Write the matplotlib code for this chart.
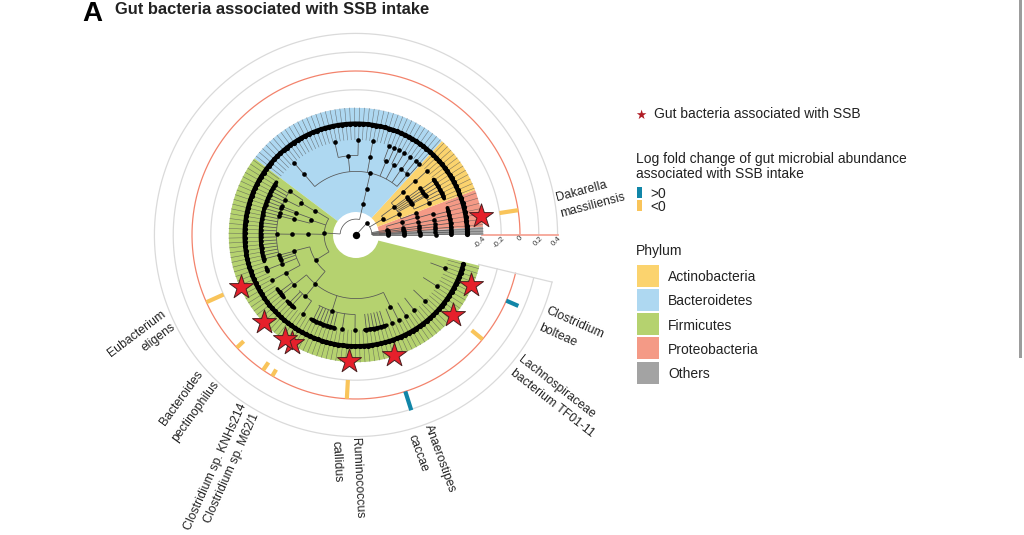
import matplotlib
matplotlib.use("Agg")
import matplotlib.pyplot as plt
import numpy as np
from matplotlib.patches import Rectangle

plt.rcParams["font.family"] = ["Liberation Sans", "DejaVu Sans"]

W, H = 1024, 535
CX, CY = 356, 235          # centre of the tree, in pixels
RMAX = 235
LEVEL = 15.9               # radial step of one taxonomic level
LFC_ZERO = 164
LFC_SCALE = 94             # pixels per unit of log fold change

PHYLA = ["Others", "Proteobacteria", "Actinobacteria", "Bacteroidetes", "Firmicutes"]
PHYLUM_EDGES = [0, 3.7, 20.7, 47.6, 143, 346]
PHYLUM_TIPS = [3, 7, 12, 43, 92]
PHYLUM_COLORS = ["#a3a3a3", "#f49a86", "#fbd36e", "#aed8f1", "#b5d26f"]
LEGEND_ORDER = ["Actinobacteria", "Bacteroidetes", "Firmicutes", "Proteobacteria", "Others"]

# nodes of the tree: angle in degrees at each level
L1_NODES = [47.6]
L2_NODES = [176.3, 77, 30.6, 9, 6.5, 4.5, 3, 1.5, 0]
L3_NODES = [178.8, 161.7, 149.2, 212, 77, 36.5, 26, 16, 9, 6.5, 4.5, 3, 1.5, 0]
L4_NODES = [179, 159.7, 165.6, 149.8, 194.4, 229.7, 77, 42.2, 36.3, 34.5, 32.5, 30.5, 28.8,
            19.8, 16, 11.5, 8, 6, 4, 2, 0]
L5_NODES = [95.6, 79.7, 67.8, 61.7, 55.5, 49.8, 130.4, 42.6, 36, 34, 32, 30, 29, 24,
            15.6, 11, 8, 6, 4, 2, 0, 179.3, 158.9, 166, 160.5, 164, 146.7, 153.5,
            194.7, 196.5, 198.5, 201.5, 208.5, 218.8, 230.5, 252.5, 295.6]
L6_SINGLES = [42.1, 48.3, 51.2, 55.2, 59.6, 63.3, 66.2, 69.5, 79.8, 88.6, 102.9, 130.6,
              208.4, 261.7, 269.4, 292.1, 296.5, 301.6, 307.7, 316.3, 327.7, 339.5, 236]
L6_RUNS = [(0, 16.5), (22.5, 35.5), (146.5, 196), (200, 202.5), (214.5, 221), (224, 229.8),
           (242, 257), (275.4, 288.8)]

# arcs joining the children of a node
ARC_LEVELS = [1, 1, 2, 2, 2, 3, 3, 3, 3, 3, 4, 4, 4, 4, 4,
              5, 5, 5, 5, 5, 5, 5, 5, 5, 5]
ARC_START = [0, 77, 149.2, 26, 0, 28.8, 19.8, 0, 159.7, 194.4, 49.8, 24, 146.7, 194.7, 218.8,
             88.6, 66.2, 59.6, 51.2, 48.3, 22.6, 146.9, 208.4, 224.3, 242]
ARC_END = [47.6, 176.3, 212, 36.5, 16, 42.2, 26, 16, 165.6, 229.7, 130.4, 36, 153.5, 208.5, 295.6,
           102.9, 69.5, 63.3, 55.2, 51.2, 35.5, 201.8, 221, 236, 269.4]

# species with a star, and their log fold change bar
SPECIES_ANGLE = [8.7, 336.4, 320.5, 287.5, 266.8, 239.3, 235.5, 223.4, 204.2]
SPECIES_LFC = [-0.20, 0.14, -0.15, 0.21, -0.20, -0.08, -0.10, -0.10, -0.20]
RING_TICKS = [-0.4, -0.2, 0, 0.2, 0.4]
RING_TICK_LABELS = ["-0.4", "-0.2", "0", "0.2", "0.4"]
RING_TICK_PX = [(480, 242), (499, 242), (520, 238.5), (538, 241), (556, 241)]

LABELS = ["Dakarella", "massiliensis", "Clostridium", "bolteae", "Lachnospiraceae",
          "bacterium TF01-11", "Anaerostipes", "caccae", "Ruminococcus", "callidus",
          "Clostridium sp. M62/1", "Clostridium sp. KNHs214", "Bacteroides",
          "pectinophilus", "Eubacterium", "eligens"]
LABEL_X = [582, 593, 575, 558, 557, 552, 440, 418, 357, 337, 232, 215, 182, 195, 137, 159]
LABEL_Y = [191, 205, 323, 335, 387, 403, 459, 453, 478, 462, 468, 467, 398, 411, 334, 337]
LABEL_ROT = [15, 15, -24, -24, -38, -38, -70, -70, -87, -87, 66, 66, 54, 54, 37, 37]

TEAL = "#1186a8"
YELLOW = "#f9c45a"
RING = "#dadada"
SALMON = "#f3836c"
TREE = "#555555"


def fx(x):
    return x / W


def fy(y):
    return 1 - y / H


def arc(ax, a, b, r, **kw):
    t = np.radians(np.linspace(a, b, max(int(abs(b - a)) * 2, 2)))
    ax.plot(t, np.full_like(t, r), **kw)


def tip_angles():
    out = []
    for i, n in enumerate(PHYLUM_TIPS):
        a, b = PHYLUM_EDGES[i], PHYLUM_EDGES[i + 1]
        step = (b - a) / n
        out.extend(a + step * (k + 0.4) for k in range(n))
    return np.array(out)


def main():
    fig = plt.figure(figsize=(W / 100, H / 100), dpi=100)
    ax = fig.add_axes([(CX - RMAX) / W, (H - CY - RMAX) / H, 2 * RMAX / W, 2 * RMAX / H],
                      projection="polar")
    ax.set_ylim(0, RMAX)
    ax.axis("off")

    # rings for the log fold change
    ends = (0, 346.5)
    for v in RING_TICKS:
        r = LFC_ZERO + v * LFC_SCALE
        arc(ax, *ends, r, color=SALMON if v == 0 else RING, lw=0.9, zorder=1)
    r0 = LFC_ZERO + RING_TICKS[0] * LFC_SCALE
    r1 = LFC_ZERO + RING_TICKS[-1] * LFC_SCALE
    ax.plot([0, 0], [r0, r1], color="#f6a596", lw=1.3, zorder=1)
    ax.plot([np.radians(346.5)] * 2, [r0, r1], color=RING, lw=0.9, zorder=1)

    # phylum sectors
    for i, c in enumerate(PHYLUM_COLORS):
        a, b = PHYLUM_EDGES[i], PHYLUM_EDGES[i + 1]
        ax.bar(np.radians((a + b) / 2), 8 * LEVEL - 23, width=np.radians(b - a), bottom=23,
               color=c, lw=0, zorder=2)

    # tree
    tips = tip_angles()
    line = dict(color=TREE, lw=0.55, zorder=3, solid_capstyle="butt")
    for t in tips:
        ax.plot([np.radians(t)] * 2, [6 * LEVEL, 8 * LEVEL], color=TREE, lw=0.4, alpha=0.75, zorder=3)
    for lev, a, b in zip(ARC_LEVELS, ARC_START, ARC_END):
        arc(ax, a, b, lev * LEVEL, **line)

    l6 = list(L6_SINGLES)
    for a, b in L6_RUNS:
        l6.extend(tips[(tips >= a) & (tips <= b)])
    by_level = [(1, L1_NODES), (2, L2_NODES), (3, L3_NODES), (4, L4_NODES), (5, L5_NODES), (6, l6)]
    for lev, nodes in by_level:
        th = np.radians(nodes)
        for t in th:
            ax.plot([t, t], [(lev - 1) * LEVEL, lev * LEVEL], **line)
        ax.scatter(th, np.full(len(th), lev * LEVEL), s=11, color="black", lw=0, zorder=4)
    ax.scatter(np.radians(tips), np.full(len(tips), 7 * LEVEL), s=14, color="black", lw=0, zorder=4)
    arc(ax, tips[0], tips[-1], 7 * LEVEL, color="black", lw=3.2, zorder=4, solid_capstyle="round")
    for a, b in L6_RUNS:
        arc(ax, a, b, 6 * LEVEL, color="black", lw=2.8, zorder=4, solid_capstyle="round")
    ax.scatter([0], [0], s=28, color="black", lw=0, zorder=4)

    # species
    for ang, v in zip(SPECIES_ANGLE, SPECIES_LFC):
        t = np.radians(ang)
        ax.plot([t, t], [LFC_ZERO, LFC_ZERO + v * LFC_SCALE], color=TEAL if v > 0 else YELLOW,
                lw=3.0, solid_capstyle="butt", zorder=5)
    ax.scatter(np.radians(SPECIES_ANGLE), np.full(len(SPECIES_ANGLE), 126), marker="*", s=330,
               color="#e6202b", edgecolor="#4a2020", lw=0.7, zorder=6, clip_on=False)

    # ring tick labels
    for s, (x, y) in zip(RING_TICK_LABELS, RING_TICK_PX):
        fig.text(fx(x), fy(y), s, fontsize=5.6, rotation=45, ha="center", va="center", color="#333333")

    for s, x, y, rot in zip(LABELS, LABEL_X, LABEL_Y, LABEL_ROT):
        fig.text(fx(x), fy(y), s, fontsize=8.8, rotation=rot, rotation_mode="anchor",
                 ha="center", va="center", color="#222222")

    # titles
    fig.text(fx(82), fy(14), "A", fontsize=20, fontweight="bold", va="center", color="black")
    fig.text(fx(115), fy(9), "Gut bacteria associated with SSB intake", fontsize=11.9,
             fontweight="bold", va="center", color="#222222")

    # legend
    fig.text(fx(641), fy(115), "\u2605", fontsize=9, ha="center", va="center", color="#b01c24",
             family=["DejaVu Sans"])
    text = dict(fontsize=10, va="center", color="#222222")
    fig.text(fx(654), fy(114.5), "Gut bacteria associated with SSB", **text)
    fig.text(fx(636), fy(159), "Log fold change of gut microbial abundance", **text)
    fig.text(fx(636), fy(174), "associated with SSB intake", **text)
    fig.text(fx(650), fy(194), ">0", **text)
    fig.text(fx(650), fy(207), "<0", **text)
    fig.text(fx(636), fy(251), "Phylum", **text)
    for y, c in zip((187, 200), (TEAL, YELLOW)):
        fig.add_artist(Rectangle((fx(637), fy(y + 11)), 5 / W, 11 / H, color=c, lw=0,
                                 transform=fig.transFigure))
    for i, name in enumerate(LEGEND_ORDER):
        y = 264.5 + i * 24.3
        c = PHYLUM_COLORS[PHYLA.index(name)]
        fig.add_artist(Rectangle((fx(637), fy(y + 22)), 22 / W, 22 / H, color=c, lw=0,
                                 transform=fig.transFigure))
        fig.text(fx(668), fy(y + 12.5), name, **text)

    # scrollbar of the page the figure sits on
    fig.add_artist(Rectangle((fx(1019), fy(358)), 2.5 / W, 358 / H, color="#9c9c9c", lw=0,
                             transform=fig.transFigure))

    fig.savefig("out.png", dpi=100)


main()
